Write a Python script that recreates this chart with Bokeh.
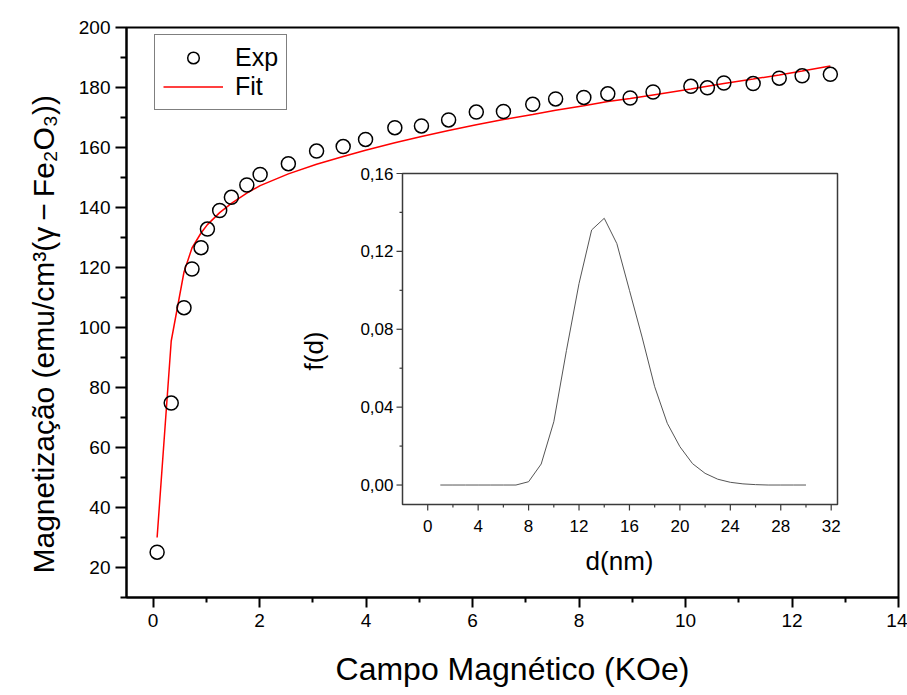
import math
from bokeh.plotting import figure
from bokeh.models import (FixedTicker, Legend, LegendItem, Range1d, Title,
                          ColumnDataSource)
from bokeh.core.properties import value
from bokeh.embed import file_html
from bokeh.resources import INLINE

FONT = "Liberation Sans"

# ---------------- data ----------------
field_kOe = [0.075, 0.34, 0.58, 0.73, 0.90, 1.02, 1.25, 1.47, 1.76, 2.01,
             2.54, 3.07, 3.57, 3.99, 4.54, 5.04, 5.55, 6.07, 6.58, 7.13,
             7.56, 8.09, 8.54, 8.96, 9.39, 10.10, 10.41, 10.72, 11.27,
             11.76, 12.19, 12.72]
mag_exp = [25.1, 74.8, 106.6, 119.5, 126.6, 132.8, 139.0, 143.4, 147.5,
           151.0, 154.6, 158.8, 160.3, 162.7, 166.6, 167.2, 169.2, 171.8,
           172.0, 174.4, 176.2, 176.7, 177.9, 176.5, 178.5, 180.4, 179.9,
           181.5, 181.3, 183.1, 183.9, 184.4]
mag_fit = [30.0, 95.5, 118.5, 126.5, 131.5, 134.3, 138.3, 141.4, 144.8,
           147.3, 151.2, 154.4, 157.0, 159.1, 161.6, 163.7, 165.7, 167.6,
           169.3, 171.0, 172.4, 173.9, 175.3, 176.3, 177.5, 179.5, 180.4,
           181.3, 182.8, 184.2, 185.5, 187.2]

d_nm = [1, 2, 3, 4, 5, 6, 7, 8, 9, 10, 11, 12, 13, 14, 15, 16, 17, 18, 19,
        20, 21, 22, 23, 24, 25, 26, 27, 28, 29, 30]
f_d = [0.0, 0.0, 0.0, 0.0, 0.0, 0.0, 0.0, 0.0017, 0.0108, 0.0325, 0.069,
       0.1035, 0.131, 0.137, 0.124, 0.100, 0.076, 0.0505, 0.0317, 0.0197,
       0.011, 0.006, 0.003, 0.0014, 0.0006, 0.0002, 0.0, 0.0, 0.0, 0.0]

x_ticks = [0, 2, 4, 6, 8, 10, 12, 14]
x_minor = [1, 3, 5, 7, 9, 11, 13]
y_ticks = [20, 40, 60, 80, 100, 120, 140, 160, 180, 200]
y_minor = [10, 30, 50, 70, 90, 110, 130, 150, 170, 190]
in_x_ticks = [0, 4, 8, 12, 16, 20, 24, 28, 32]
in_x_minor = [2, 6, 10, 14, 18, 22, 26, 30]
in_y_ticks = [0.0, 0.04, 0.08, 0.12, 0.16]
in_y_minor = [0.02, 0.06, 0.10, 0.14]
in_y_labels = ["0,00", "0,04", "0,08", "0,12", "0,16"]

XR = (-0.5, 14.0)
YR = (10.0, 200.0)
IXR = (-2.0, 32.5)
IYR = (-0.01, 0.16)

# ---------------- layout geometry (pixels) ----------------
W, H = 907, 695
FL, FR, FT, FB = 126, 898, 27, 597          # main frame
IL, IR, IT, IB = 402, 837, 173, 504         # inset frame

kx = (IXR[1] - IXR[0]) / (IR - IL)           # inset data units per px
ky = (IYR[1] - IYR[0]) / (IB - IT)
ix_range = Range1d(IXR[0] - (IL - FL) * kx, IXR[1] + (FR - IR) * kx)
iy_range = Range1d(IYR[0] - (FB - IB) * ky, IYR[1] + (IT - FT) * ky)


def qx(px):
    return IXR[0] + (px - IL) * kx


def qy(py):
    return IYR[1] - (py - IT) * ky


# ---------------- main figure ----------------
p = figure(width=W, height=H, x_range=XR, y_range=YR,
           output_backend="svg", toolbar_location=None,
           min_border_left=FL, min_border_right=W - FR,
           min_border_top=FT, min_border_bottom=H - FB)
p.extra_x_ranges = {"ix": ix_range}
p.extra_y_ranges = {"iy": iy_range}
p.grid.visible = False
p.background_fill_color = "white"
p.border_fill_color = "white"
p.outline_line_color = "black"
p.outline_line_width = 2
p.outline_line_alpha = 1

for ax in (p.xaxis[0], p.yaxis[0]):
    ax.axis_line_width = 2
    ax.axis_line_color = "black"
    ax.major_tick_line_width = 2
    ax.minor_tick_line_width = 2
    ax.major_tick_line_color = "black"
    ax.minor_tick_line_color = "black"
    ax.major_tick_in = 0
    ax.minor_tick_in = 0
    ax.major_label_text_font = FONT
    ax.major_label_text_color = "black"

p.xaxis.ticker = FixedTicker(ticks=x_ticks, minor_ticks=x_minor)
p.xaxis.major_tick_out = 10
p.xaxis.minor_tick_out = 5
p.xaxis.major_label_text_font_size = "19px"
p.xaxis.major_label_standoff = 6
p.xaxis.axis_label = "Campo Magnético (KOe)"
p.xaxis.axis_label_text_font = FONT
p.xaxis.axis_label_text_font_size = "32px"
p.xaxis.axis_label_text_font_style = "normal"
p.xaxis.axis_label_text_color = "black"
p.xaxis.axis_label_standoff = 21

p.yaxis.ticker = FixedTicker(ticks=y_ticks, minor_ticks=y_minor)
p.yaxis.major_tick_out = 11
p.yaxis.minor_tick_out = 6
p.yaxis.major_label_text_font_size = "19px"
p.yaxis.major_label_standoff = 5

ytitle = Title(text="Magnetização (emu/cm³(γ\u2009−\u2009Fe₂O₃))",
               align="left", vertical_align="top", offset=24, standoff=28,
               text_font=FONT, text_font_size="30px",
               text_font_style="normal", text_color="black")
p.add_layout(ytitle, "left")

r_fit = p.line(field_kOe, mag_fit, line_color="#ff0000", line_width=1.5)
r_exp = p.scatter(field_kOe, mag_exp, marker="circle", size=14,
                  fill_color=None, line_color="black", line_width=1.5)

legend = Legend(items=[LegendItem(label="Exp", renderers=[r_exp]),
                       LegendItem(label="Fit", renderers=[r_fit])],
                location=(28, 487), margin=0, padding=8, spacing=0,
                glyph_width=60, glyph_height=29, label_height=29,
                label_standoff=12, label_text_font=FONT,
                label_text_font_size="25px", label_text_color="black",
                border_line_color="black", border_line_width=1.2,
                background_fill_color="white", background_fill_alpha=1)
p.add_layout(legend)

# ---------------- inset (drawn on its own ranges) ----------------
IN = dict(x_range_name="ix", y_range_name="iy")
AX_COL = "#3a3a3a"

p.quad(left=[IXR[0]], right=[IXR[1]], bottom=[IYR[0]], top=[IYR[1]],
       fill_color=None, line_color=AX_COL, line_width=1.5, **IN)
p.line(d_nm, f_d, line_color="#555555", line_width=1, **IN)

# x ticks (below inset frame)
p.segment(x0=in_x_ticks, x1=in_x_ticks, y0=[IYR[0]] * len(in_x_ticks),
          y1=[IYR[0] - 6 * ky] * len(in_x_ticks), line_color=AX_COL,
          line_width=1.2, **IN)
p.segment(x0=in_x_minor, x1=in_x_minor, y0=[IYR[0]] * len(in_x_minor),
          y1=[IYR[0] - 3 * ky] * len(in_x_minor), line_color=AX_COL,
          line_width=1.2, **IN)
# y ticks (left of inset frame)
p.segment(x0=[IXR[0]] * len(in_y_ticks), x1=[IXR[0] - 6 * kx] * len(in_y_ticks),
          y0=in_y_ticks, y1=in_y_ticks, line_color=AX_COL, line_width=1.2,
          **IN)
p.segment(x0=[IXR[0]] * len(in_y_minor), x1=[IXR[0] - 3 * kx] * len(in_y_minor),
          y0=in_y_minor, y1=in_y_minor, line_color=AX_COL, line_width=1.2,
          **IN)

xl_src = ColumnDataSource(dict(x=in_x_ticks,
                               y=[qy(525)] * len(in_x_ticks),
                               t=[str(v) for v in in_x_ticks]))
p.text(x="x", y="y", text="t", source=xl_src, text_font=value(FONT),
       text_font_size="17px", text_align="center",
       text_baseline="alphabetic", text_color="black", **IN)

yl_src = ColumnDataSource(dict(x=[qx(393)] * len(in_y_ticks),
                               y=in_y_ticks, t=in_y_labels))
p.text(x="x", y="y", text="t", source=yl_src, text_font=value(FONT),
       text_font_size="17px", text_align="right",
       text_baseline="middle", text_color="black", **IN)

p.text(x=[qx(619)], y=[qy(560)], text=["d(nm)"], text_font=value(FONT),
       text_font_size="26px", text_align="center",
       text_baseline="alphabetic", text_color="black", **IN)
p.text(x=[qx(313)], y=[qy(370)], text=["f(d)"], angle=math.pi / 2,
       text_font=value(FONT), text_font_size="26px", text_align="left",
       text_baseline="alphabetic", text_color="black", **IN)

open("out.html", "w").write(file_html(p, INLINE))
